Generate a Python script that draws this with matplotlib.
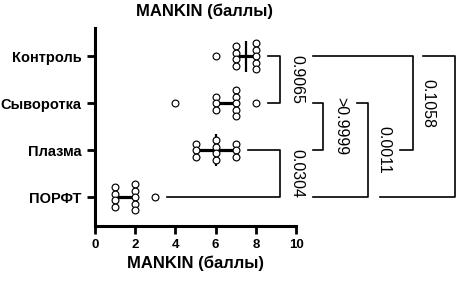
import matplotlib
matplotlib.use("Agg")
import matplotlib.pyplot as plt
import numpy as np
from collections import Counter

plt.rcParams['font.family'] = ['Liberation Sans', 'DejaVu Sans']

# ---- data ----
groups = ["Контроль", "Сыворотка", "Плазма", "ПОРФТ"]
control = [6, 7, 7, 7, 7, 8, 8, 8, 8, 8]
serum = [4, 6, 6, 6, 7, 7, 7, 7, 7, 8]
plasma = [5, 5, 5, 6, 6, 6, 6, 7, 7, 7]
porft = [1, 1, 1, 1, 2, 2, 2, 2, 2, 3]
values = [control, serum, plasma, porft]

comp_pairs = [(0, 1), (2, 3), (1, 2), (1, 3), (0, 2), (0, 3)]
comp_labels = ["0.9065", "0.0304", ">0.9999", "0.0011", "0.1058", ""]
xticks = [0, 2, 4, 6, 8, 10]
axis_title = "MANKIN (баллы)"

# ---- layout (x in data units, outside the axes) ----
br_start_a = [None, None, 10.85, 13.03, 10.85, 16.32]
br_start_b = [None, None, 10.85, 10.85, 15.17, 14.18]
br_vert = [9.2, 9.2, 11.34, 13.58, 15.82, 17.91]
br_text_x = [10.02, 10.02, 12.24, 14.38, 16.57, 18.7]

W, H = 457, 282
fig = plt.figure(figsize=(W / 100, H / 100), dpi=100)
ax = fig.add_axes([95 / W, 1 - 226 / H, (296 - 95) / W, (226 - 28) / H])

ax.set_xlim(0, 10)
ax.set_ylim(3.617, -0.596)

step = 6.5 / 47.0  # vertical spacing of stacked points, in category units
for i, vals in enumerate(values):
    q1, med, q3 = np.percentile(vals, [25, 50, 75], method='weibull')
    ax.plot([q1, q3], [i, i], color='black', lw=2.3, zorder=2, solid_capstyle='butt')
    ax.plot([med, med], [i - 0.33, i + 0.33], color='black', lw=1.6, zorder=2, solid_capstyle='butt')
    cnt = Counter(vals)
    for v, n in cnt.items():
        ys = [i + (k - (n - 1) / 2) * step for k in range(n)]
        ax.plot([v] * n, ys, linestyle='none', marker='o', ms=4.9,
                mfc='white', mec='black', mew=0.85, zorder=3)

# significance brackets
for j, ((a, b), lab) in enumerate(zip(comp_pairs, comp_labels)):
    sa = br_start_a[j] if br_start_a[j] is not None else max(values[a]) + 0.6
    sb = br_start_b[j] if br_start_b[j] is not None else max(values[b]) + 0.6
    xv = br_vert[j]
    ax.plot([sa, xv, xv, sb], [a, a, b, b], color='black', lw=1.2,
            clip_on=False, zorder=2)
    if lab:
        ax.text(br_text_x[j], (a + b) / 2, lab, rotation=-90, ha='center',
                va='center', fontsize=11.5, clip_on=False)

ax.set_yticks(range(len(groups)))
ax.set_yticklabels(groups, fontsize=10.5, fontweight='bold')
ax.set_xticks(xticks)
ax.set_xticklabels([str(t) for t in xticks], fontsize=9.5, fontweight='bold')
ax.tick_params(axis='both', width=2, length=6, direction='out')
for s in ['top', 'right']:
    ax.spines[s].set_visible(False)
for s in ['left', 'bottom']:
    ax.spines[s].set_linewidth(2.2)

ax.set_xlabel(axis_title, fontsize=12, fontweight='bold', labelpad=3)
fig.text(204 / W, 1 - 11 / H, axis_title, ha='center', va='center',
         fontsize=12, fontweight='bold')

fig.savefig("out.png", dpi=100)
